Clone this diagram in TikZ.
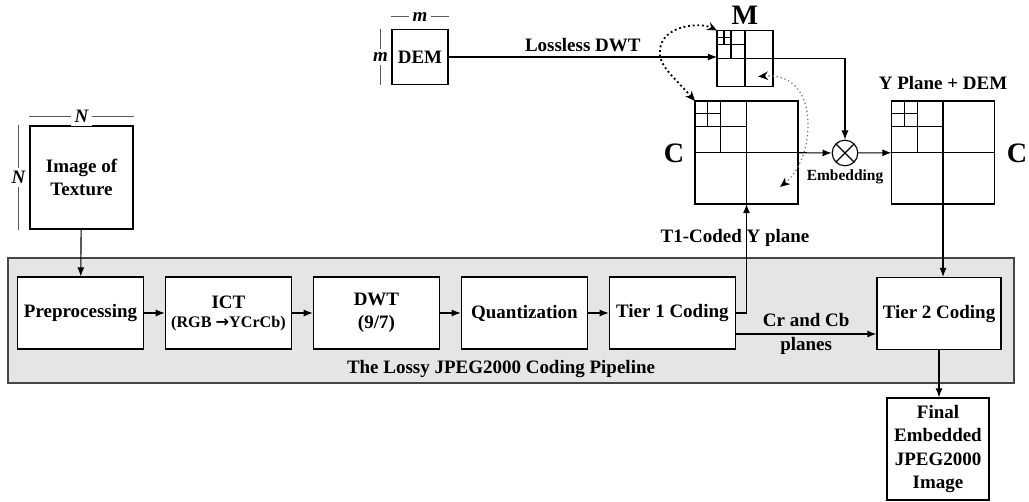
\documentclass[tikz,border=0pt]{standalone}
\usepackage{fontspec}
\setmainfont{Liberation Serif}
\newfontfamily\arrowfont{DejaVu Sans}
\usetikzlibrary{arrows.meta, positioning, calc, backgrounds}
\definecolor{pipeGray}{RGB}{229,229,229}
\definecolor{pipeEdge}{RGB}{70,70,70}

\newcommand{\quadgrid}[2]{%
  \begin{scope}[shift={(#1.north west)}, x=#2, y=-#2]
    \draw[thick] (.5,0) -- (.5,1) (0,.5) -- (1,.5) (.25,0) -- (.25,.5) (0,.25) -- (.5,.25)
      (.125,0) -- (.125,.25) (0,.125) -- (.25,.125);
  \end{scope}}

\begin{document}
\begin{tikzpicture}[x=0.025cm, y=-0.025cm,
    txt/.style={font=\bfseries\fontsize{13.5}{16.5}\selectfont},
    stage/.style={txt, draw, thick, fill=white, minimum width=3.15cm, minimum height=1.8cm, align=center},
    plane/.style={draw, thick, outer sep=0pt, inner sep=0pt, minimum size=#1},
    arrow/.style={-{Latex[length=6.5pt, width=5pt]}, thick},
    dotlink/.style={{Stealth[length=7pt, width=6pt]}-{Stealth[length=7pt, width=6pt]}, dotted, line width=1.3pt},
    graylink/.style={{Stealth[length=7pt, width=6pt, color=black]}-{Stealth[length=7pt, width=6pt, color=black]}, dotted, draw=black!55, line width=0.9pt},
    dimline/.style={draw=black!65, thick},
    dimlbl/.style={fill=white, inner sep=2.5pt, font=\bfseries\itshape\fontsize{13.5}{15.5}\selectfont},
    biglbl/.style={font=\bfseries\fontsize{20}{22}\selectfont},
    smalltxt/.style={font=\bfseries\fontsize{11}{13}\selectfont}
  ]
  \useasboundingbox (0,0) rectangle (1029,501);

  % the lossy pipeline
  \draw[draw=pipeEdge, thick, fill=pipeGray] (8,258) rectangle (1014,383);
  \node[stage] (pre) at (80.5,313) {Preprocessing};
  \node[stage, right=0.52cm of pre] (ict) {ICT\\[-3pt]{\fontsize{11.5}{13}\selectfont (RGB {\arrowfont\bfseries →}YCrCb)}};
  \node[stage, right=0.52cm of ict] (dwt) {DWT\\(9/7)};
  \node[stage, right=0.52cm of dwt] (quant) {Quantization};
  \node[stage, right=0.52cm of quant] (tier1) {Tier 1 Coding};
  \node[stage, minimum width=3.1cm] (tier2) at (939,313.5) {Tier 2 Coding};
  \node[txt] (pipename) at (501,369) {The Lossy JPEG2000 Coding Pipeline};

  \node[stage, minimum width=2.575cm, minimum height=2.575cm] (texture) at (81.5,177.5) {Image of\\Texture};
  \node[stage, minimum width=2.55cm, minimum height=2.55cm] (final) at (938,449) {Final\\Embedded\\JPEG2000\\Image};
  \node[stage, minimum width=1.4cm, minimum height=1.375cm, inner sep=1pt] (dem) at (420,57) {DEM};

  % wavelet planes
  \node[plane=1.4cm] (mbox) at (745,58.5) {};
  \node[plane=2.575cm] (cbox) at (746.5,152.5) {};
  \node[plane=2.575cm] (ybox) at (943,152.5) {};
  \quadgrid{mbox}{1.4cm}
  \quadgrid{cbox}{2.575cm}
  \quadgrid{ybox}{2.575cm}
  \node[circle, draw, thick, minimum size=0.64cm, path picture={
      \draw[thick] (path picture bounding box.north west) -- (path picture bounding box.south east)
        (path picture bounding box.south west) -- (path picture bounding box.north east);}] (emb) at (845,153) {};

  \node[biglbl] (mname) at (745,15) {M};
  \node[biglbl] (cleft) at (674,153) {C};
  \node[biglbl] (cright) at (1017,153) {C};
  \node[txt] (ylabel) at (943,83) {Y Plane + DEM};
  \node[smalltxt] (emblabel) at (845,177) {Embedding};
  \node[txt] (t1label) at (735,238) {T1-Coded Y plane};

  % sizes
  \draw[dimline] ([yshift=0.3cm]dem.north west) -- node[dimlbl] {m} ([yshift=0.3cm]dem.north east);
  \draw[dimline] ([xshift=-0.275cm]dem.north west) -- node[dimlbl] {m} ([xshift=-0.275cm]dem.south west);
  \draw[dimline] ([yshift=0.225cm]texture.north west) -- node[dimlbl] {N} ([yshift=0.225cm]texture.north east);
  \draw[dimline] ([xshift=-0.275cm]texture.north west) -- node[dimlbl] {N} ([xshift=-0.275cm]texture.south west);

  \draw[arrow] (texture) -- (pre);
  \draw[arrow] (pre) -- (ict);
  \draw[arrow] (ict) -- (dwt);
  \draw[arrow] (dwt) -- (quant);
  \draw[arrow] (quant) -- (tier1);
  \draw[arrow] (tier1.east) -| (cbox.south);
  \draw[arrow] ([yshift=-0.525cm]tier1.east) -- node[txt, align=center] {Cr and Cb\\planes} ([yshift=-0.525cm]tier1.east -| tier2.west);
  \draw[arrow] (dem) -- node[above, txt] {Lossless DWT} (dem -| mbox.west);
  \draw[arrow] (mbox.east) -| (emb.north);
  \draw[arrow] (cbox) -- (emb);
  \draw[arrow] (emb) -- (ybox);
  \draw[arrow] (ybox.south) -- (ybox.south |- tier2.north);
  \draw[arrow] (tier2.south) -- (tier2.south |- final.north);

  \coordinate (mq) at ([xshift=0.33cm, yshift=-0.45cm]mbox.center);
  \coordinate (cq) at ([xshift=0.84cm, yshift=-0.86cm]cbox.center);
  \draw[dotlink] (cbox.north west) .. controls (672,75) and (658,65) .. (660,50) .. controls (662,25) and (700,22) .. (mbox.north west);
  \draw[graylink] (mq) .. controls (790,74) and (808,90) .. (808,125) .. controls (808,155) and (795,175) .. (cq);
\end{tikzpicture}
\end{document}
